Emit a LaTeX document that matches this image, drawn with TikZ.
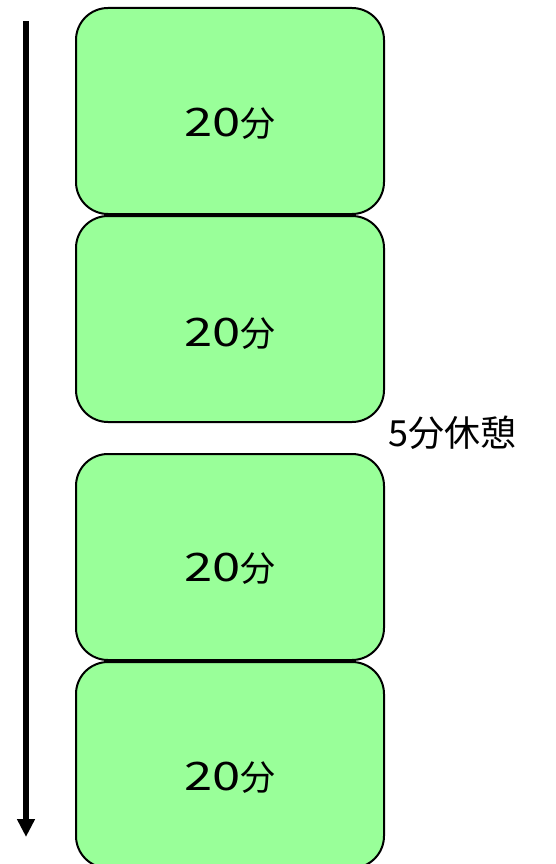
\documentclass[tikz,border=0pt]{standalone}
\usepackage{fontspec}
\setmainfont{Noto Sans CJK JP}
\usetikzlibrary{arrows.meta}
\definecolor{boxgreen}{HTML}{99FF99}
\tikzset{
  blockbox/.style={draw=black, line width=2pt, fill=boxgreen, rounded corners=32pt,
    minimum width=308pt, minimum height=206pt, inner sep=0pt, anchor=north west},
  blocklabel/.style={inner sep=0pt, font=\fontsize{35}{40}\selectfont},
  timeline/.style={line width=6pt, -{Triangle[width=17pt,length=18pt]}},
  breaklabel/.style={anchor=west, inner sep=0pt, font=\fontsize{36}{42}\selectfont}
}
\newcommand{\mins}{\scalebox{1.45}[1.12]{20}分}
\begin{document}
\begin{tikzpicture}[x=1pt,y=-1pt]
\useasboundingbox (0,0) rectangle (555,864);
\node[blockbox] (b1) at (75,7) {};
\node[blockbox] (b2) at (75,215) {};
\node[blockbox] (b3) at (75,453) {};
\node[blockbox] (b4) at (75,661) {};
\node[blocklabel] (l1) at ([yshift=-13pt]b1.center) {\mins};
\node[blocklabel] (l2) at ([yshift=-15pt]b2.center) {\mins};
\node[blocklabel] (l3) at ([yshift=-12pt]b3.center) {\mins};
\node[blocklabel] (l4) at ([yshift=-13pt]b4.center) {\mins};
\node[breaklabel] (rest) at (388,433) {5分休憩};
\coordinate (tstart) at (26,21);
\coordinate (tend) at (26,837);
\draw[timeline] (tstart) -- (tend);
\end{tikzpicture}
\end{document}
